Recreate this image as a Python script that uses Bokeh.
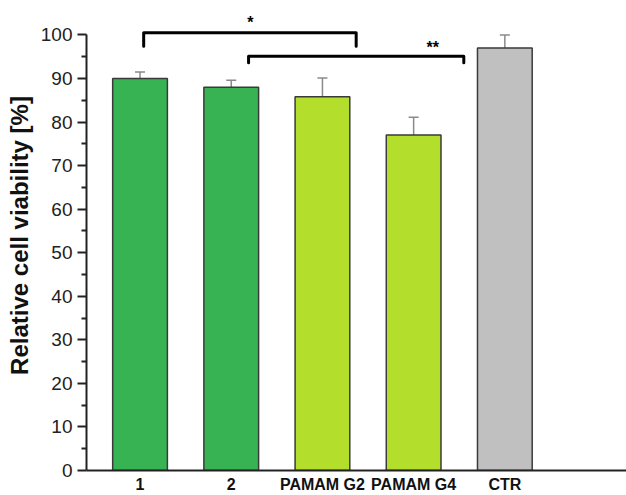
from bokeh.plotting import figure
from bokeh.models import ColumnDataSource, Whisker, TeeHead, FixedTicker, Range1d
from bokeh.core.properties import value
from bokeh.embed import file_html
from bokeh.resources import INLINE

# ---- data ----
categories = ["1", "2", "PAMAM G2", "PAMAM G4", "CTR"]
viability = [90.0, 88.0, 85.8, 77.0, 97.0]
errors = [1.5, 1.6, 4.3, 4.1, 3.0]
colors = ["#38b354", "#38b354", "#b4de2c", "#b4de2c", "#c0c0c0"]

# significance brackets (x in category index units, y in %)
bracket_x0 = [0.04, 1.19]
bracket_x1 = [2.37, 3.55]
bracket_top = [100.5, 95.1]
bracket_leg = [97.4, 93.6]
star_x = [1.21, 3.21]
star_y = [102.9, 97.2]
star_labels = ["*", "**"]

xs = list(range(len(categories)))
src = ColumnDataSource(dict(
    x=xs, top=viability, color=colors,
    upper=[v + e for v, e in zip(viability, errors)],
))

FONT = "Liberation Sans"

p = figure(width=626, height=495, output_backend="svg", toolbar_location=None,
           x_range=Range1d(-0.587, 5.334), y_range=Range1d(0, 107.9),
           min_border_left=86, min_border_right=0, min_border_top=0,
           min_border_bottom=25)
p.outline_line_color = None
p.xgrid.visible = False
p.ygrid.visible = False

p.vbar(x="x", top="top", width=0.6, bottom=0, fill_color="color",
       line_color="#3a3a3a", line_width=1.5, source=src)

wh = Whisker(base="x", lower="top", upper="upper", source=src,
             line_color="#8a8a8a", line_width=1.5,
             upper_head=TeeHead(size=10, line_color="#8a8a8a", line_width=1.5),
             lower_head=None)
p.add_layout(wh)

bx = [[a, a, b, b] for a, b in zip(bracket_x0, bracket_x1)]
by = [[l, t, t, l] for t, l in zip(bracket_top, bracket_leg)]
p.multi_line(bx, by, line_color="black", line_width=3, line_join="round",
             line_cap="round")

p.text(x=star_x, y=star_y, text=star_labels, text_align="center",
       text_baseline="middle", text_font=value(FONT), text_font_style="bold",
       text_font_size="16px", text_color="black")

# y axis
yax = p.yaxis[0]
yax.bounds = (0, 100)
yax.ticker = FixedTicker(ticks=list(range(0, 101, 10)),
                         minor_ticks=list(range(5, 100, 10)))
yax.major_tick_out = 9
yax.major_tick_in = 0
yax.minor_tick_out = 5
yax.minor_tick_in = 0
yax.axis_line_width = 2
yax.major_tick_line_width = 2
yax.minor_tick_line_width = 2
yax.axis_line_color = "#222222"
yax.major_tick_line_color = "#222222"
yax.minor_tick_line_color = "#222222"
yax.major_label_text_font = FONT
yax.major_label_text_font_size = "19px"
yax.major_label_text_color = "#222222"
yax.major_label_standoff = 5
yax.axis_label = "Relative cell viability [%]"
yax.axis_label_text_font = FONT
yax.axis_label_text_font_style = "bold"
yax.axis_label_text_font_size = "24px"
yax.axis_label_text_color = "#111111"
yax.axis_label_standoff = 5

# x axis
xax = p.xaxis[0]
xax.ticker = FixedTicker(ticks=xs)
xax.major_label_overrides = {i: c for i, c in zip(xs, categories)}
xax.major_tick_out = 0
xax.major_tick_in = 0
xax.minor_tick_out = 0
xax.minor_tick_in = 0
xax.axis_line_width = 2
xax.axis_line_color = "#222222"
xax.major_label_text_font = FONT
xax.major_label_text_font_style = "bold"
xax.major_label_text_font_size = "16px"
xax.major_label_text_color = "#111111"
xax.major_label_standoff = 5

open("out.html", "w").write(file_html(p, INLINE))
